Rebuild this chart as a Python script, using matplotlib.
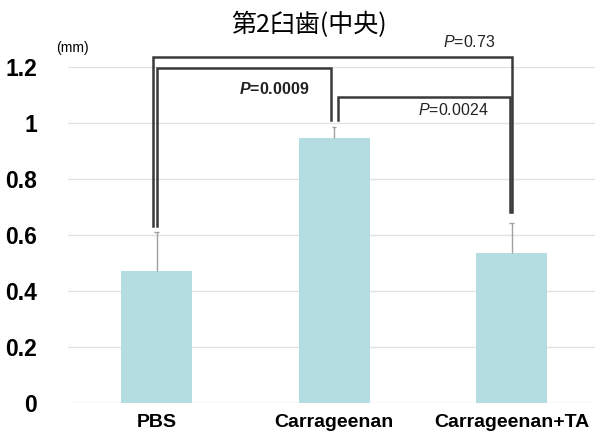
import matplotlib
matplotlib.use('Agg')
import matplotlib.pyplot as plt
import numpy as np

# data
groups = ['PBS', 'Carrageenan', 'Carrageenan+TA']
means = [0.47, 0.946, 0.536]
errors = [0.14, 0.04, 0.105]

# significance brackets: (x left, x right, bar height, left end, right end, p value, bold)
brackets = [
    (-0.02, 2.0, 1.236, 0.63, 0.68, '0.73', False),
    (0.0, 0.98, 1.196, 0.63, 1.01, '0.0009', True),
    (1.02, 1.99, 1.093, 1.01, 0.68, '0.0024', False),
]
label_pos = [(1.76, 1.29), (0.66, 1.12), (1.67, 1.045)]

plt.rcParams['font.family'] = ['Liberation Sans', 'DejaVu Sans']
plt.rcParams['mathtext.fontset'] = 'custom'
plt.rcParams['mathtext.it'] = 'Liberation Sans:italic'
plt.rcParams['mathtext.bf'] = 'Liberation Sans:bold'
plt.rcParams['mathtext.bfit'] = 'Liberation Sans:italic:bold'
plt.rcParams['mathtext.rm'] = 'Liberation Sans'

fig = plt.figure(figsize=(5.95, 4.37), dpi=100)
ax = fig.add_axes([0.114, 0.078, 0.886, 0.769])

x = np.arange(len(groups))
ax.bar(x, means, width=0.4, color='#b3dde0', zorder=2)
# upper-only error bars with a small cap
tops = np.array(means) + np.array(errors)
ax.vlines(x, means, tops, color='#a0a0a0', lw=1.0, zorder=3)
ax.hlines(tops, x - 0.012, x + 0.012, color='#a0a0a0', lw=1.0, zorder=3)

for (x1, x2, y, yl, yr, p, bold), (tx, ty) in zip(brackets, label_pos):
    ax.plot([x1, x1, x2, x2], [yl, y, y, yr], color='#3a3a3a', lw=1.8,
            clip_on=False, zorder=4, solid_joinstyle='miter')
    if bold:
        ax.text(tx, ty, r'$\mathbfit{P}$=' + p, ha='center', va='center',
                fontsize=11.5, fontweight='bold', color='#222222')
    else:
        ax.text(tx, ty, r'$\mathit{P}$=' + p, ha='center', va='center',
                fontsize=11.5, color='#222222')

ax.set_xlim(-0.5, 2.47)
ax.set_ylim(0, 1.2)
ax.set_yticks([0, 0.2, 0.4, 0.6, 0.8, 1.0, 1.2])
ax.set_yticklabels(['0', '0.2', '0.4', '0.6', '0.8', '1', '1.2'])
ax.set_xticks(x)
ax.set_xticklabels(groups)
ax.tick_params(axis='y', length=0, pad=22, labelsize=16.5)
ax.tick_params(axis='x', length=0, pad=8, labelsize=14)
for lbl in ax.get_yticklabels() + ax.get_xticklabels():
    lbl.set_fontweight('bold')
ax.grid(axis='y', color='#e2e2e2', lw=1.0, zorder=0)
for s in ax.spines.values():
    s.set_visible(False)

fig.text(0.121, 0.89, '(mm)', fontsize=10, ha='center', va='center')
fig.text(0.52, 0.943, '第2臼歯(中央)', fontsize=18, ha='center', va='center',
         family=['Noto Sans CJK JP', 'DejaVu Sans'])

fig.savefig('out.png', dpi=100)
